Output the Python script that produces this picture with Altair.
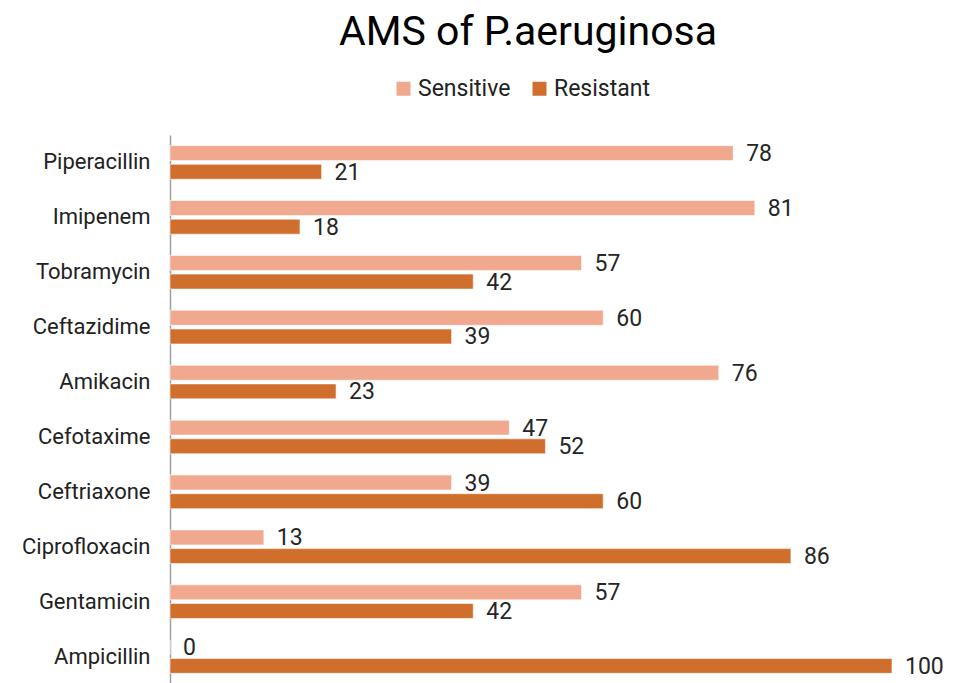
import altair as alt
import pandas as pd

drugs = ["Piperacillin", "Imipenem", "Tobramycin", "Ceftazidime", "Amikacin",
         "Cefotaxime", "Ceftriaxone", "Ciprofloxacin", "Gentamicin", "Ampicillin"]
sensitive = [78, 81, 57, 60, 76, 47, 39, 13, 57, 0]
resistant = [21, 18, 42, 39, 23, 52, 60, 86, 42, 100]
series = ["Sensitive", "Resistant"]
colors = ["#F0A88E", "#CF6E2D"]

rows = []
for d, s, r in zip(drugs, sensitive, resistant):
    rows.append({"drug": d, "series": "Sensitive", "value": s})
    rows.append({"drug": d, "series": "Resistant", "value": r})
df = pd.DataFrame(rows)

FONT = "Roboto"

y = alt.Y("drug:N", sort=drugs,
          scale=alt.Scale(paddingInner=0.388, paddingOuter=0.194, range=[0, 549]),
          axis=alt.Axis(title=None, domainColor="#a0a0a0", domainWidth=1.5,
                        ticks=False, labelFontSize=22, labelColor="#222222",
                        labelPadding=20, labelFont=FONT))
yoff = alt.YOffset("series:N", sort=series, scale=alt.Scale(paddingInner=0.2))
x = alt.X("value:Q", scale=alt.Scale(domain=[0, 100]), axis=None)
color = alt.Color("series:N", sort=series,
                  scale=alt.Scale(domain=series, range=colors),
                  legend=alt.Legend(title=None, orient="none", direction="horizontal",
                                    legendX=222, legendY=-58,
                                    symbolType="square", symbolSize=196,
                                    symbolStrokeWidth=0, symbolOpacity=1,
                                    labelFontSize=23, labelFont=FONT,
                                    labelColor="#222222", columnPadding=17,
                                    labelOffset=3))

bars = alt.Chart(df).mark_bar(stroke="white", strokeWidth=0.8, strokeOpacity=0.7).encode(
    y=y, yOffset=yoff, x=x, color=color)
text = alt.Chart(df).mark_text(align="left", baseline="middle", dx=13, dy=1,
                               fontSize=23, color="#262626", font=FONT).encode(
    y=y, yOffset=yoff, x=x, text="value:Q")

chart = (bars + text).properties(
    width=722, height=540,
    title=alt.Title("AMS of P.aeruginosa", fontSize=41, font=FONT, fontWeight="normal",
                    color="#000000", anchor="middle", offset=23, dx=-3),
    autosize="none",
    padding={"left": 162, "top": 127, "right": 54, "bottom": 8},
).configure_view(stroke=None)

chart.save("out.html", embed_options={"renderer": "svg", "actions": False})
